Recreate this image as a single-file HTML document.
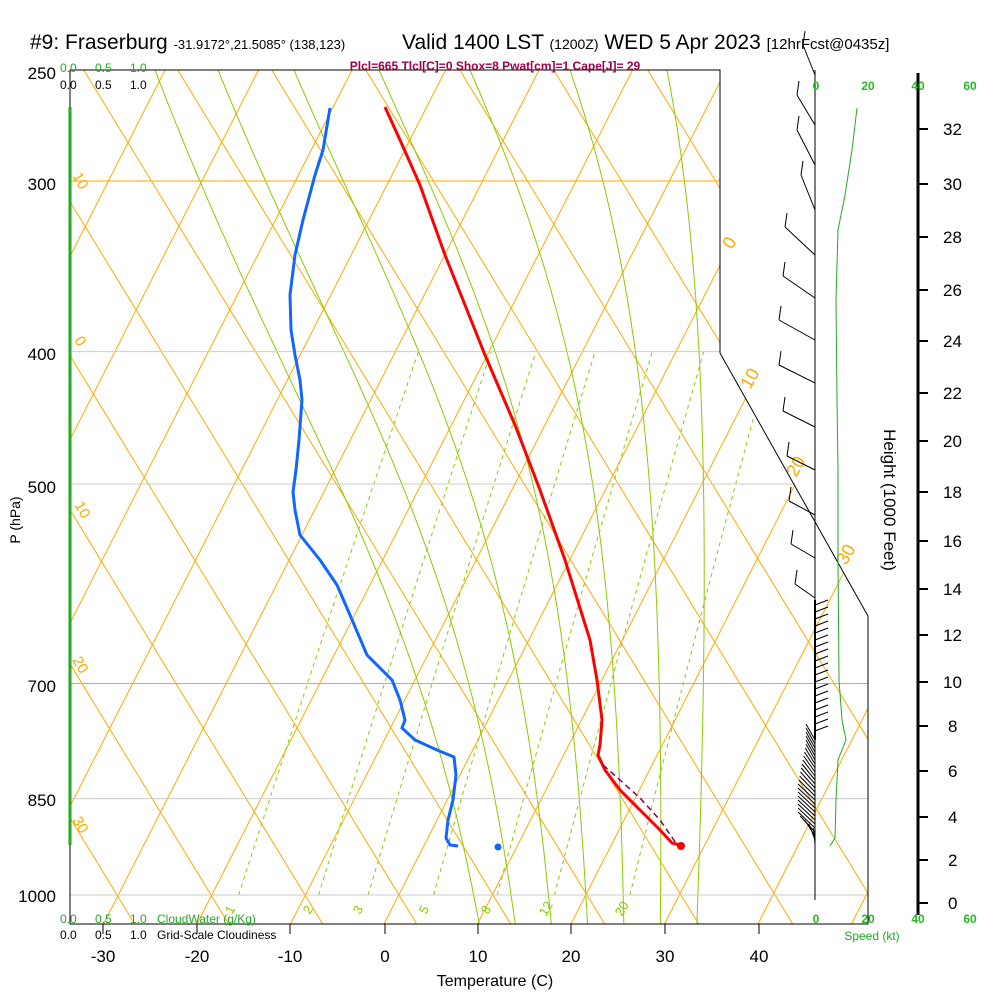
<!DOCTYPE html>
<html><head><meta charset="utf-8"><style>
html,body{margin:0;padding:0;background:#fff;}
svg{display:block;font-family:"Liberation Sans",sans-serif;}
</style></head><body>
<svg id="s" width="1000" height="1000" viewBox="0 0 1000 1000" xmlns="http://www.w3.org/2000/svg">
<defs><clipPath id="cp"><polygon points="70,70 720,70 720,353 868,616 868,924 70,924"/></clipPath>
<clipPath id="cp2"><polygon points="70,70 720,70 720,353 868,616 868,895 70,895"/></clipPath></defs>
<rect width="1000" height="1000" fill="#fff"/>
<g id="grid" clip-path="url(#cp)" fill="none"></g>
<g id="mr" clip-path="url(#cp2)" fill="none"></g>
<g id="plines"></g>
<polyline points="70,70 720,70 720,353 868,616 868,924 70,924 70,70" fill="none" stroke="#000" stroke-width="1"/>
<line x1="70" y1="107" x2="70" y2="845" stroke="#22aa22" stroke-width="3"/>
<g stroke="#000"><line x1="103" y1="924" x2="103" y2="934"/><line x1="197" y1="924" x2="197" y2="934"/><line x1="290" y1="924" x2="290" y2="934"/><line x1="385" y1="924" x2="385" y2="934"/><line x1="478" y1="924" x2="478" y2="934"/><line x1="571" y1="924" x2="571" y2="934"/><line x1="665" y1="924" x2="665" y2="934"/><line x1="759" y1="924" x2="759" y2="934"/></g>
<g font-size="17" text-anchor="middle" fill="#000"><text x="103" y="962">-30</text><text x="197" y="962">-20</text><text x="290" y="962">-10</text><text x="385" y="962">0</text><text x="478" y="962">10</text><text x="571" y="962">20</text><text x="665" y="962">30</text><text x="759" y="962">40</text></g>
<text x="495" y="986" font-size="16" text-anchor="middle">Temperature (C)</text>
<g font-size="17" text-anchor="end" fill="#000"><text x="56" y="79">250</text><text x="56" y="190">300</text><text x="56" y="360">400</text><text x="56" y="493">500</text><text x="56" y="692">700</text><text x="56" y="806">850</text><text x="56" y="902">1000</text></g>
<text transform="translate(20,520) rotate(-90)" font-size="14" text-anchor="middle">P (hPa)</text>
<g font-size="12"><text x="60" y="72" fill="#22aa22">0.0</text><text x="95" y="72" fill="#22aa22">0.5</text><text x="130" y="72" fill="#22aa22">1.0</text>
<text x="60" y="89">0.0</text><text x="95" y="89">0.5</text><text x="130" y="89">1.0</text>
<text x="60" y="923" fill="#22aa22">0.0</text><text x="95" y="923" fill="#22aa22">0.5</text><text x="130" y="923" fill="#22aa22">1.0</text><text x="157" y="923" fill="#22aa22">CloudWater (g/Kg)</text>
<text x="60" y="939">0.0</text><text x="95" y="939">0.5</text><text x="130" y="939">1.0</text><text x="157" y="939">Grid-Scale Cloudiness</text></g>
<text x="30" y="49" font-size="21">#9: Fraserburg <tspan font-size="13">-31.9172°,21.5085° (138,123)</tspan></text>
<text x="402" y="49" font-size="21">Valid 1400 LST <tspan font-size="14">(1200Z)</tspan> WED 5 Apr 2023 <tspan font-size="15">[12hrFcst@0435z]</tspan></text>
<text x="495" y="70" font-size="12" font-weight="bold" fill="#a0004a" text-anchor="middle">Plcl=665 Tlcl[C]=0 Shox=8 Pwat[cm]=1 Cape[J]= 29</text>
<g font-size="15" fill="#ffaa00">
<text transform="translate(72,176) rotate(60)">10</text><text transform="translate(74,340) rotate(60)">0</text><text transform="translate(74,505) rotate(60)">10</text><text transform="translate(72,660) rotate(60)">20</text><text transform="translate(72,820) rotate(60)">30</text>
<text transform="translate(732,250) rotate(-60)" font-size="18">0</text><text transform="translate(750,390) rotate(-60)" font-size="18">10</text><text transform="translate(796,478) rotate(-60)" font-size="18">20</text><text transform="translate(846,566) rotate(-60)" font-size="18">30</text></g>
<g font-size="13" fill="#88cc00">
<text transform="translate(232,915) rotate(-60)">1</text><text transform="translate(310,915) rotate(-60)">2</text><text transform="translate(360,915) rotate(-60)">3</text><text transform="translate(426,915) rotate(-60)">5</text><text transform="translate(488,915) rotate(-60)">8</text><text transform="translate(546,917) rotate(-60)">12</text><text transform="translate(622,917) rotate(-60)">20</text></g>
<polyline fill="none" stroke="#ff0000" stroke-width="3" points="385,107 400,140 420,185 445,255 465,305 485,355 515,425 540,490 565,560 590,640 597,680 602,720 600,745 598,755 605,770 620,790 640,810 660,830 672,843 680,845"/>
<circle cx="681" cy="846" r="4" fill="#ff0000"/>
<polyline fill="none" stroke="#1166ff" stroke-width="3" points="330,108 328,120 323,150 315,175 303,220 295,255 290,295 291,330 295,355 300,380 302,400 299,440 296,470 293,492 295,510 300,535 320,560 337,585 350,615 367,655 380,668 392,680 400,700 405,720 402,728 415,740 437,750 454,757 456,775 453,800 448,820 446,838 450,845 458,846"/>
<circle cx="498" cy="847" r="3.5" fill="#1166ff"/>
<polyline fill="none" stroke="#800060" stroke-width="1.5" stroke-dasharray="6,4" points="603,765 620,780 640,798 660,820 678,846"/>
<line x1="815" y1="70" x2="815" y2="900" stroke="#000"/>
<line x1="815" y1="600" x2="815" y2="740" stroke="#000" stroke-width="2"/>
<polyline fill="none" stroke="#22aa22" points="857,108 852,150 845,195 838,230 836,300 837,400 838,470 838,560 839,680 842,720 846,740 838,760 836,800 835,838 830,846"/>
<g id="barbs" stroke="#000" fill="none"></g>
<line x1="918" y1="73" x2="918" y2="915" stroke="#000" stroke-width="3"/>
<g id="hax"></g>
<g font-size="12" font-weight="bold" fill="#22bb22" text-anchor="middle"><text x="816" y="90">0</text><text x="868" y="90">20</text><text x="918" y="90">40</text><text x="970" y="90">60</text>
<text x="816" y="923">0</text><text x="868" y="923">20</text><text x="918" y="923">40</text><text x="970" y="923">60</text></g>
<text x="872" y="940" font-size="12" fill="#22aa22" text-anchor="middle">Speed (kt)</text>
<text transform="translate(884,500) rotate(90)" font-size="17" text-anchor="middle">Height (1000 Feet)</text>
</svg>
<script>
(function(){
var NS="http://www.w3.org/2000/svg";
function Y(p){return 895-593*Math.log(1000/p);}
function X(T,y){return 384+9.35*T+0.51*(924-y);}
function add(g,tag,at){var e=document.createElementNS(NS,tag);for(var k in at)e.setAttribute(k,at[k]);document.getElementById(g).appendChild(e);return e;}
var OR="#ffaa00";
for(var T=-130;T<=60;T+=10){add("grid","line",{x1:X(T,924),y1:924,x2:X(T,60),y2:60,stroke:OR,"stroke-width":1});}
for(var k=-6;k<=16;k++){var x0=399+94*k;add("grid","line",{x1:x0+0.61*29,y1:924,x2:x0-0.61*835,y2:60,stroke:OR,"stroke-width":1});}
function es(Tc){return 6.112*Math.exp(17.67*Tc/(Tc+243.5));}
function dTdlnp(Tk,p){var Tc=Tk-273.15;var e=es(Tc);var rs=0.622*e/(p-e);var Lv=2.501e6,Rd=287,cp=1005;return (Rd*Tk+Lv*rs)/(cp+Lv*Lv*rs*0.622/(Rd*Tk*Tk));}
var tops=[155,218,294,379,470,570,667];
for(var j=0;j<7;j++){var tw=8+4*j;
 var up=[],Tk=tw+273.15,lp=Math.log(1000);var step=0.01;
 while(lp>Math.log(245)){up.push([Math.exp(lp),Tk]);Tk-=dTdlnp(Tk,Math.exp(lp))*step;lp-=step;}
 up.push([Math.exp(lp),Tk]);
 var dn=[];Tk=tw+273.15;lp=Math.log(1000);
 while(lp<Math.log(1060)){lp+=step;Tk+=dTdlnp(Tk,Math.exp(lp))*step;dn.push([Math.exp(lp),Tk]);}
 var all=dn.reverse().concat(up);
 // find x at y=70
 var xt=null;
 for(var i=1;i<all.length;i++){var ya=Y(all[i-1][0]),yb=Y(all[i][0]);if(ya>=70&&yb<70){var xa=X(all[i-1][1]-273.15,ya),xb=X(all[i][1]-273.15,yb);xt=xa+(xb-xa)*(ya-70)/(ya-yb);}}
 var d=tops[j]-xt;var pts=[];
 for(var i=0;i<all.length;i++){var y=Y(all[i][0]);var w=y<924?Math.pow((924-y)/854,1.5):0;var x=X(all[i][1]-273.15,y)+d*w;pts.push(x.toFixed(1)+","+y.toFixed(1));}
 add("grid","polyline",{points:pts.join(" "),stroke:"#88cc00","stroke-width":1});
}
[1,2,3,5,8,12,20].forEach(function(w){var pts=[];for(var p=1000;p>=400;p-=20){var e=w*p/(622+w);var l=Math.log(e/6.112);var Td=243.5*l/(17.67-l);var y=Y(p);pts.push(X(Td,y).toFixed(1)+","+y.toFixed(1));}
 add("mr","polyline",{points:pts.join(" "),stroke:"#88cc00","stroke-width":1,"stroke-dasharray":"4,4"});});
[[300,720,"#ffaa00"],[400,720,"#ccc"],[500,795,"#ccc"],[700,868,"#ffaa00"],[850,868,"#ccc"],[1000,868,"#ccc"]].forEach(function(a){var y=Y(a[0]);add("plines","line",{x1:70,y1:y,x2:a[1],y2:y,stroke:a[2],"stroke-width":1});});
var hy=[903,860,817,771,726,682,635,589,541,492,441,393,341,290,237,184,129];
for(var i=0;i<hy.length;i++){add("hax","line",{x1:918,y1:hy[i],x2:928,y2:hy[i],stroke:"#000","stroke-width":2});var t=add("hax","text",{x:i*2>=10?943:948,y:hy[i]+6,"font-size":17});t.textContent=String(i*2);}
var ub=[[75,-12,-30],[125,-18,-30],[165,-18,-35],[210,-14,-35],[255,-30,-28],[298,-32,-22],[340,-36,-20],[383,-36,-18],[427,-32,-16],[470,-28,-14],[515,-26,-14],[558,-24,-14],[598,-20,-14]];
ub.forEach(function(b){var y=b[0],x2=815+b[1],y2=y+b[2];add("barbs","line",{x1:815,y1:y,x2:x2,y2:y2});add("barbs","line",{x1:x2,y1:y2,x2:x2+2,y2:y2-14});});
for(var y=605;y<=735;y+=7){add("barbs","line",{x1:815,y1:y,x2:828,y2:y-5});}
function lx(y){if(y<760)return 806;if(y<800)return 806-(y-760)*0.2;if(y<830)return 798;return 798+(y-830)*1.1;}
for(var y=740;y<=845;y+=4){add("barbs","line",{x1:815,y1:y,x2:lx(y),y2:y-16});}
})();
</script>
</body></html>
